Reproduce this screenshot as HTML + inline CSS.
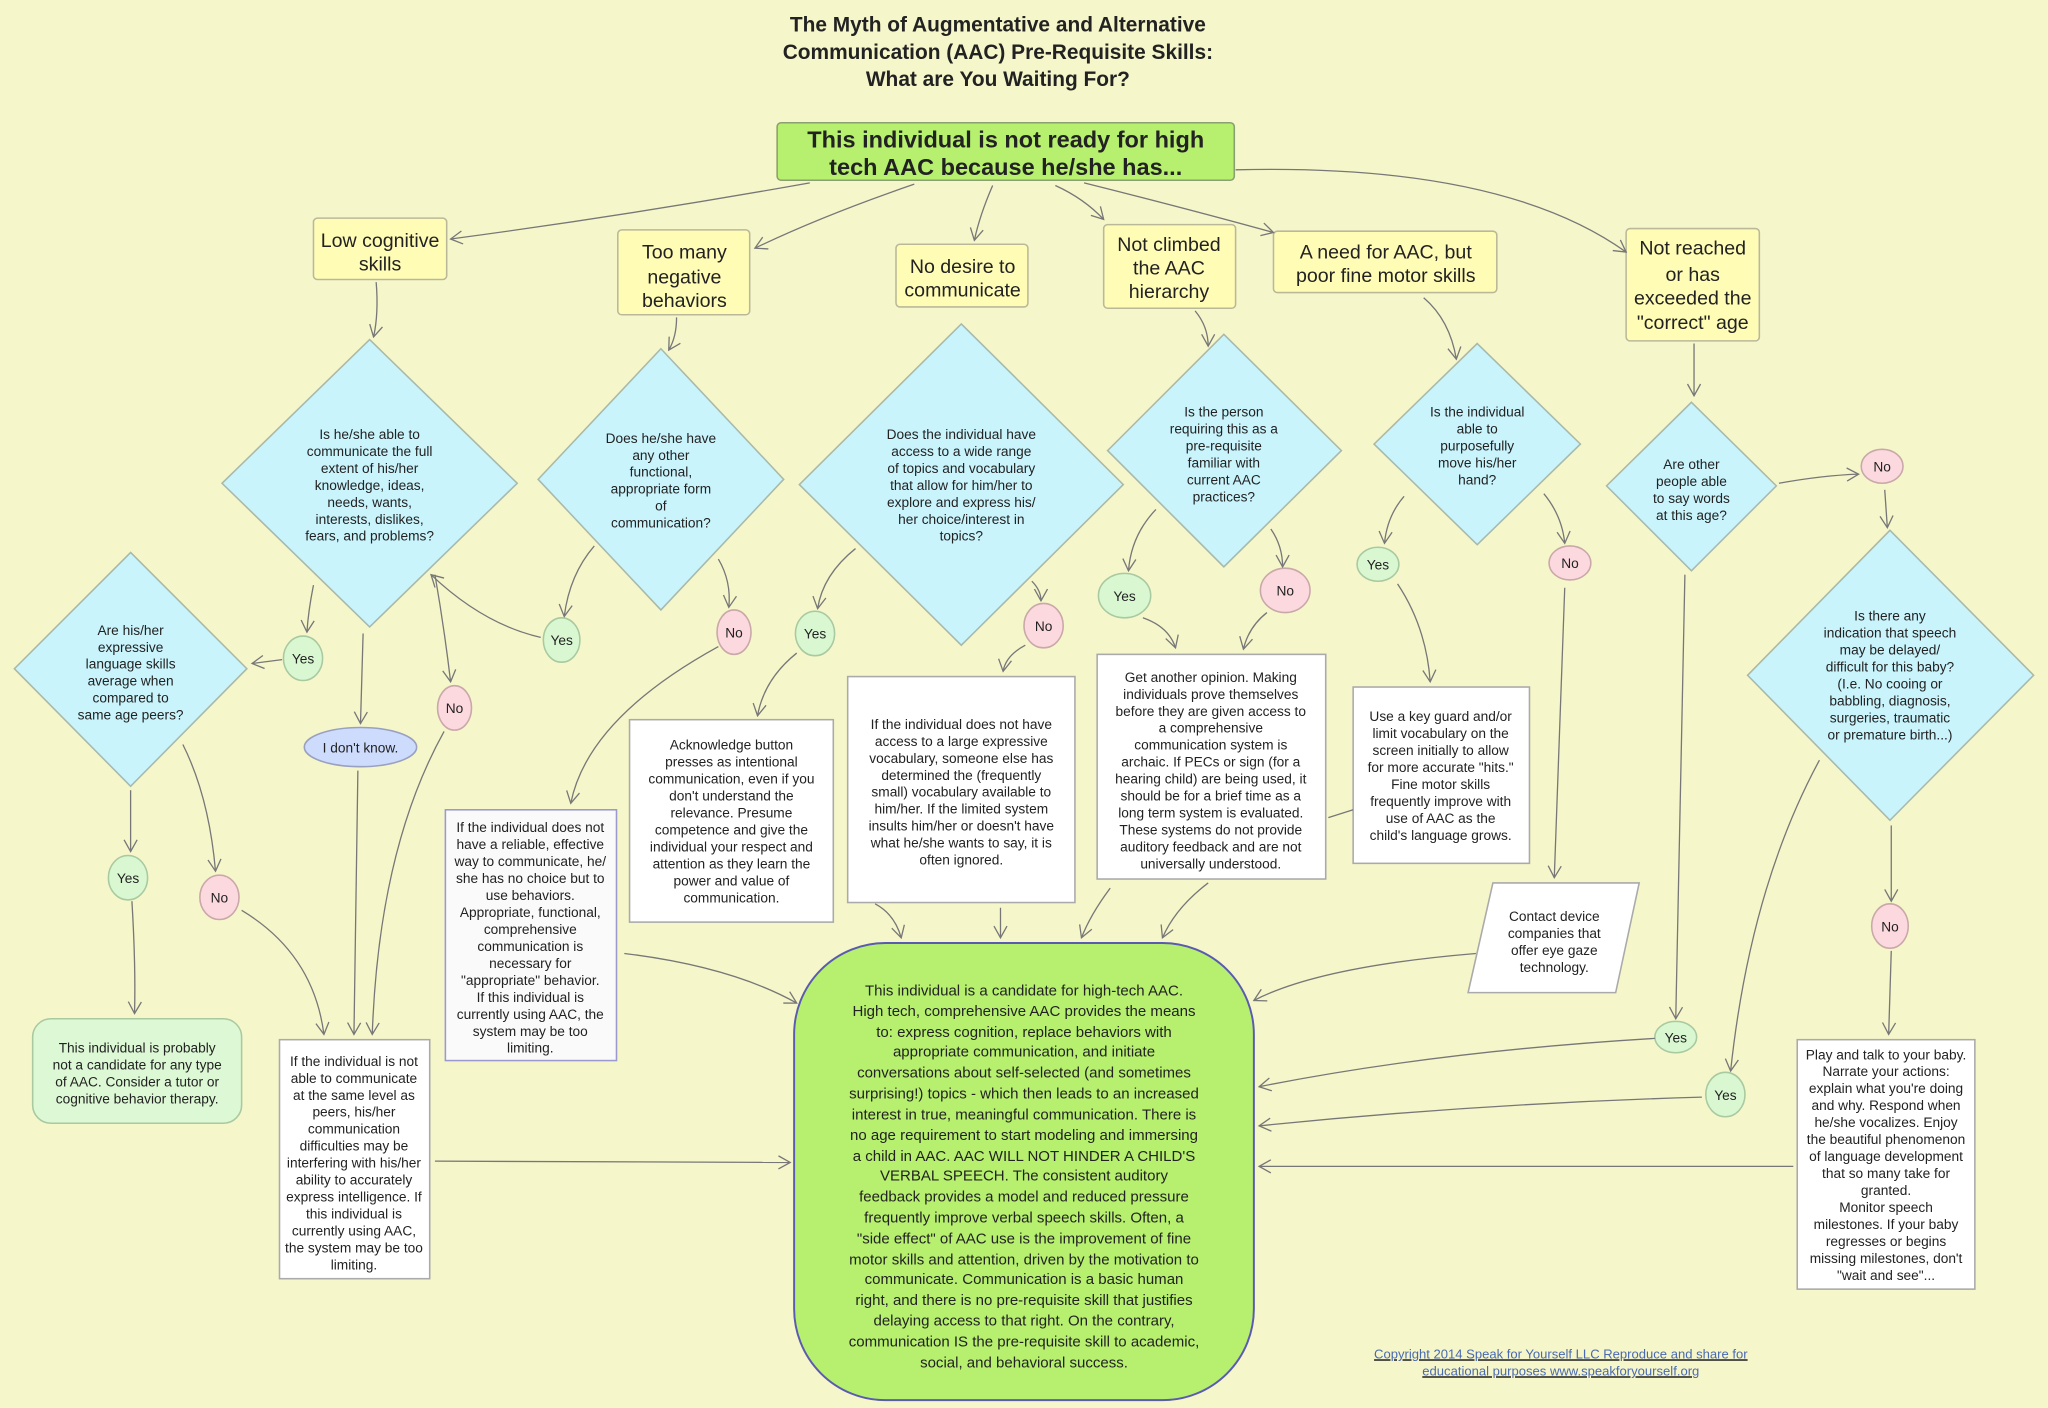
<!DOCTYPE html>
<html><head><meta charset="utf-8"><style>
html,body{margin:0;padding:0;background:#f6f6cb;}
svg{display:block;}
text{font-family:"Liberation Sans",sans-serif;fill:#222;}
.s{font-size:10.5px;text-anchor:middle;}
.m{font-size:15px;text-anchor:middle;}
.c{font-size:11.5px;text-anchor:middle;}
.a{fill:none;stroke:#777;stroke-width:1;marker-end:url(#ar);}
.l{fill:none;stroke:#777;stroke-width:1;}
.dm{fill:#c9f4fc;stroke:#a9b9a9;stroke-width:1.2;}
.y{fill:#d9f8d2;stroke:#a9c9a0;stroke-width:1.2;}
.n{fill:#fcd8df;stroke:#c9a8a8;stroke-width:1.2;}
.yb{fill:#fffcb6;stroke:#b9b99a;stroke-width:1.2;}
.wb{fill:#fff;stroke:#aaa;stroke-width:1.2;}
</style></head><body>
<svg width="2048" height="1408" viewBox="0 0 1568 1078" xmlns="http://www.w3.org/2000/svg">
<defs><marker id="ar" markerWidth="12" markerHeight="12" refX="10" refY="6" orient="auto" markerUnits="userSpaceOnUse"><path d="M1,1 L10,6 L1,11" fill="none" stroke="#777" stroke-width="1"/></marker></defs>
<rect width="1568" height="1078" fill="#f6f6cb"/>
<g font-weight="bold" style="font-size:16px">
<text x="764" y="24" text-anchor="middle">The Myth of Augmentative and Alternative</text>
<text x="764" y="45" text-anchor="middle">Communication (AAC) Pre-Requisite Skills:</text>
<text x="764" y="66" text-anchor="middle">What are You Waiting For?</text>
</g>
<rect x="595" y="94" width="350" height="44" rx="3" fill="#b6f06e" stroke="#8aa070" stroke-width="1.2"/>
<text x="770" y="113" text-anchor="middle" font-weight="bold" style="font-size:18px">This individual is not ready for high</text>
<text x="770" y="134" text-anchor="middle" font-weight="bold" style="font-size:18px">tech AAC because he/she has...</text>

<!-- yellow boxes -->
<rect class="yb" x="240" y="167" width="102" height="47" rx="3"/>
<text class="m" x="291" y="189">Low cognitive</text><text class="m" x="291" y="207">skills</text>
<rect class="yb" x="473" y="176" width="101" height="65" rx="3"/>
<text class="m" x="524" y="198">Too many</text><text class="m" x="524" y="217">negative</text><text class="m" x="524" y="235">behaviors</text>
<rect class="yb" x="686" y="187" width="101" height="48" rx="3"/>
<text class="m" x="737" y="209">No desire to</text><text class="m" x="737" y="227">communicate</text>
<rect class="yb" x="845" y="172" width="101" height="64" rx="3"/>
<text class="m" x="895" y="192">Not climbed</text><text class="m" x="895" y="210">the AAC</text><text class="m" x="895" y="228">hierarchy</text>
<rect class="yb" x="975" y="177" width="171" height="47" rx="3"/>
<text class="m" x="1061" y="198">A need for AAC, but</text><text class="m" x="1061" y="216">poor fine motor skills</text>
<rect class="yb" x="1245" y="175" width="102" height="86" rx="3"/>
<text class="m" x="1296" y="195">Not reached</text><text class="m" x="1296" y="215">or has</text><text class="m" x="1296" y="233">exceeded the</text><text class="m" x="1296" y="252">"correct" age</text>

<!-- diamonds -->
<polygon class="dm" points="283,260 396,370 283,480 170,370"/>
<g class="s"><text x="283" y="336">Is he/she able to</text><text x="283" y="349">communicate the full</text><text x="283" y="362">extent of his/her</text><text x="283" y="375">knowledge, ideas,</text><text x="283" y="388">needs, wants,</text><text x="283" y="401">interests, dislikes,</text><text x="283" y="414">fears, and problems?</text></g>
<polygon class="dm" points="506,267 600,367 506,467 412,367"/>
<g class="s"><text x="506" y="339">Does he/she have</text><text x="506" y="352">any other</text><text x="506" y="365">functional,</text><text x="506" y="378">appropriate form</text><text x="506" y="391">of</text><text x="506" y="404">communication?</text></g>
<polygon class="dm" points="736,248 860,371 736,494 612,371"/>
<g class="s"><text x="736" y="336">Does the individual have</text><text x="736" y="349">access to a wide range</text><text x="736" y="362">of topics and vocabulary</text><text x="736" y="375">that allow for him/her to</text><text x="736" y="388">explore and express his/</text><text x="736" y="401">her choice/interest in</text><text x="736" y="414">topics?</text></g>
<polygon class="dm" points="937,256 1027,345 937,434 848,345"/>
<g class="s"><text x="937" y="319">Is the person</text><text x="937" y="332">requiring this as a</text><text x="937" y="345">pre-requisite</text><text x="937" y="358">familiar with</text><text x="937" y="371">current AAC</text><text x="937" y="384">practices?</text></g>
<polygon class="dm" points="1131,263 1210,340 1131,417 1052,340"/>
<g class="s"><text x="1131" y="319">Is the individual</text><text x="1131" y="332">able to</text><text x="1131" y="345">purposefully</text><text x="1131" y="358">move his/her</text><text x="1131" y="371">hand?</text></g>
<polygon class="dm" points="1295,308 1360,372 1295,437 1230,372"/>
<g class="s"><text x="1295" y="359">Are other</text><text x="1295" y="372">people able</text><text x="1295" y="385">to say words</text><text x="1295" y="398">at this age?</text></g>
<polygon class="dm" points="1447,406 1557,517 1447,628 1338,517"/>
<g class="s"><text x="1447" y="475">Is there any</text><text x="1447" y="488">indication that speech</text><text x="1447" y="501">may be delayed/</text><text x="1447" y="514">difficult for this baby?</text><text x="1447" y="527">(I.e. No cooing or</text><text x="1447" y="540">babbling, diagnosis,</text><text x="1447" y="553">surgeries, traumatic</text><text x="1447" y="566">or premature birth...)</text></g>
<polygon class="dm" points="100,423 189,512 100,602 11,512"/>
<g class="s"><text x="100" y="486">Are his/her</text><text x="100" y="499">expressive</text><text x="100" y="512">language skills</text><text x="100" y="525">average when</text><text x="100" y="538">compared to</text><text x="100" y="551">same age peers?</text></g>

<!-- yes/no circles -->
<g class="s">
<ellipse class="y" cx="232" cy="504" rx="15" ry="17"/><text x="232" y="508">Yes</text>
<ellipse class="y" cx="430" cy="490" rx="14" ry="17"/><text x="430" y="494">Yes</text>
<ellipse class="n" cx="348" cy="542" rx="13" ry="17"/><text x="348" y="546">No</text>
<ellipse class="n" cx="562" cy="484" rx="13" ry="17"/><text x="562" y="488">No</text>
<ellipse class="y" cx="624" cy="485" rx="15" ry="17"/><text x="624" y="489">Yes</text>
<ellipse class="n" cx="799" cy="479" rx="15" ry="17"/><text x="799" y="483">No</text>
<ellipse class="y" cx="861" cy="456" rx="20" ry="17"/><text x="861" y="460">Yes</text>
<ellipse class="n" cx="984" cy="452" rx="19" ry="17"/><text x="984" y="456">No</text>
<ellipse class="y" cx="1055" cy="432" rx="16" ry="13"/><text x="1055" y="436">Yes</text>
<ellipse class="n" cx="1202" cy="431" rx="16" ry="13"/><text x="1202" y="435">No</text>
<ellipse class="n" cx="1441" cy="357" rx="16" ry="13"/><text x="1441" y="361">No</text>
<ellipse class="n" cx="1447" cy="709" rx="14" ry="17"/><text x="1447" y="713">No</text>
<ellipse class="y" cx="1283" cy="794" rx="16" ry="12"/><text x="1283" y="798">Yes</text>
<ellipse class="y" cx="1321" cy="838" rx="15" ry="17"/><text x="1321" y="842">Yes</text>
<ellipse class="y" cx="98" cy="672" rx="15" ry="17"/><text x="98" y="676">Yes</text>
<ellipse class="n" cx="168" cy="687" rx="15" ry="17"/><text x="168" y="691">No</text>
</g>
<ellipse cx="276" cy="572" rx="43" ry="15" fill="#cddcfc" stroke="#9aa0c0" stroke-width="1.2"/>
<text class="s" x="276" y="576">I don't know.</text>

<!-- white boxes -->
<rect x="25" y="780" width="160" height="80" rx="14" fill="#dcf8d4" stroke="#a9c9a0" stroke-width="1.2"/>
<g class="s"><text x="105" y="806">This individual is probably</text><text x="105" y="819">not a candidate for any type</text><text x="105" y="832">of AAC. Consider a tutor or</text><text x="105" y="845">cognitive behavior therapy.</text></g>

<rect class="wb" x="214" y="796" width="115" height="183" stroke="#aab"/>
<g class="s"><text x="271" y="816">If the individual is not</text><text x="271" y="829">able to communicate</text><text x="271" y="842">at the same level as</text><text x="271" y="855">peers, his/her</text><text x="271" y="868">communication</text><text x="271" y="881">difficulties may be</text><text x="271" y="894">interfering with his/her</text><text x="271" y="907">ability to accurately</text><text x="271" y="920">express intelligence. If</text><text x="271" y="933">this individual is</text><text x="271" y="946">currently using AAC,</text><text x="271" y="959">the system may be too</text><text x="271" y="972">limiting.</text></g>

<rect x="341" y="620" width="131" height="192" fill="#fafafa" stroke="#9a9ad0" stroke-width="1.2"/>
<g class="s"><text x="406" y="637">If the individual does not</text><text x="406" y="650">have a reliable, effective</text><text x="406" y="663">way to communicate, he/</text><text x="406" y="676">she has no choice but to</text><text x="406" y="689">use behaviors.</text><text x="406" y="702">Appropriate, functional,</text><text x="406" y="715">comprehensive</text><text x="406" y="728">communication is</text><text x="406" y="741">necessary for</text><text x="406" y="754">"appropriate" behavior.</text><text x="406" y="767">If this individual is</text><text x="406" y="780">currently using AAC, the</text><text x="406" y="793">system may be too</text><text x="406" y="806">limiting.</text></g>

<rect class="wb" x="482" y="551" width="156" height="155"/>
<g class="s"><text x="560" y="574">Acknowledge button</text><text x="560" y="587">presses as intentional</text><text x="560" y="600">communication, even if you</text><text x="560" y="613">don't understand the</text><text x="560" y="626">relevance. Presume</text><text x="560" y="639">competence and give the</text><text x="560" y="652">individual your respect and</text><text x="560" y="665">attention as they learn the</text><text x="560" y="678">power and value of</text><text x="560" y="691">communication.</text></g>

<rect class="wb" x="649" y="518" width="174" height="173"/>
<g class="s"><text x="736" y="558">If the individual does not have</text><text x="736" y="571">access to a large expressive</text><text x="736" y="584">vocabulary, someone else has</text><text x="736" y="597">determined the (frequently</text><text x="736" y="610">small) vocabulary available to</text><text x="736" y="623">him/her. If the limited system</text><text x="736" y="636">insults him/her or doesn't have</text><text x="736" y="649">what he/she wants to say, it is</text><text x="736" y="662">often ignored.</text></g>

<rect class="wb" x="840" y="501" width="175" height="172"/>
<g class="s"><text x="927" y="522">Get another opinion.  Making</text><text x="927" y="535">individuals prove themselves</text><text x="927" y="548">before they are given access to</text><text x="927" y="561">a comprehensive</text><text x="927" y="574">communication system is</text><text x="927" y="587">archaic. If PECs or sign (for a</text><text x="927" y="600">hearing child) are being used, it</text><text x="927" y="613">should be for a brief time as a</text><text x="927" y="626">long term system is evaluated.</text><text x="927" y="639">These systems do not provide</text><text x="927" y="652">auditory feedback and are not</text><text x="927" y="665">universally understood.</text></g>

<rect class="wb" x="1036" y="526" width="135" height="135"/>
<g class="s"><text x="1103" y="552">Use a key guard and/or</text><text x="1103" y="565">limit vocabulary on the</text><text x="1103" y="578">screen initially to allow</text><text x="1103" y="591">for more accurate "hits."</text><text x="1103" y="604">Fine motor skills</text><text x="1103" y="617">frequently improve with</text><text x="1103" y="630">use of AAC as the</text><text x="1103" y="643">child's language grows.</text></g>

<polygon class="wb" points="1143,676 1255,676 1237,760 1124,760"/>
<g class="s"><text x="1190" y="705">Contact device</text><text x="1190" y="718">companies that</text><text x="1190" y="731">offer eye gaze</text><text x="1190" y="744">technology.</text></g>

<rect class="wb" x="1376" y="796" width="136" height="191" stroke="#aab"/>
<g class="s"><text x="1444" y="811">Play and talk to your baby.</text><text x="1444" y="824">Narrate your actions:</text><text x="1444" y="837">explain what you're doing</text><text x="1444" y="850">and why. Respond when</text><text x="1444" y="863">he/she vocalizes.  Enjoy</text><text x="1444" y="876">the beautiful phenomenon</text><text x="1444" y="889">of language development</text><text x="1444" y="902">that so many take for</text><text x="1444" y="915">granted.</text><text x="1444" y="928">Monitor speech</text><text x="1444" y="941">milestones.  If your baby</text><text x="1444" y="954">regresses or begins</text><text x="1444" y="967">missing milestones, don't</text><text x="1444" y="980">"wait and see"...</text></g>

<!-- big green -->
<rect x="608" y="722" width="352" height="350" rx="70" fill="#b6f06e" stroke="#5a5ab0" stroke-width="1.5"/>
<g class="c"><text x="784" y="762">This individual is a candidate for high-tech AAC.</text><text x="784" y="778">High tech, comprehensive AAC provides the means</text><text x="784" y="794">to: express cognition, replace behaviors with</text><text x="784" y="809">appropriate communication, and initiate</text><text x="784" y="825">conversations about self-selected (and sometimes</text><text x="784" y="841">surprising!) topics - which then leads to an increased</text><text x="784" y="857">interest in true, meaningful communication.  There is</text><text x="784" y="873">no age requirement to start modeling and immersing</text><text x="784" y="889">a child in AAC. AAC WILL NOT HINDER A CHILD'S</text><text x="784" y="904">VERBAL SPEECH. The consistent auditory</text><text x="784" y="920">feedback provides a model and reduced pressure</text><text x="784" y="936">frequently improve verbal speech skills. Often, a</text><text x="784" y="952">"side effect" of AAC use is the improvement of fine</text><text x="784" y="968">motor skills and attention, driven by the motivation to</text><text x="784" y="983">communicate. Communication is a basic human</text><text x="784" y="999">right, and there is no pre-requisite skill that justifies</text><text x="784" y="1015">delaying access to that right. On the contrary,</text><text x="784" y="1031">communication IS the pre-requisite skill to academic,</text><text x="784" y="1047">social, and behavioral success.</text></g>

<g style="font-size:10px;font-family:'Liberation Serif',serif" text-anchor="middle" text-decoration="underline">
<text x="1195" y="1040" style="fill:#4a6ab0">Copyright 2014 Speak for Yourself LLC  Reproduce and share for</text>
<text x="1195" y="1053" style="fill:#4a6ab0">educational purposes www.speakforyourself.org</text></g>

<!-- arrows -->
<path class="a" d="M620,140 Q480,165 345,183"/>
<path class="a" d="M700,141 Q630,165 578,190"/>
<path class="a" d="M760,142 Q750,165 746,184"/>
<path class="a" d="M808,142 Q830,152 845,168"/>
<path class="a" d="M830,140 Q910,160 975,178"/>
<path class="a" d="M946,130 Q1150,125 1245,193"/>
<path class="a" d="M288,216 Q290,240 286,258"/>
<path class="a" d="M518,243 Q518,258 512,268"/>
<path class="a" d="M915,238 Q925,250 925,265"/>
<path class="a" d="M1090,228 Q1110,245 1115,275"/>
<path class="a" d="M1297,263 L1297,303"/>
<path class="a" d="M240,448 Q236,468 235,484"/>
<path class="a" d="M216,505 L193,508"/>
<path class="a" d="M278,485 L276,554"/>
<path class="a" d="M414,488 Q370,478 330,440"/>
<path class="a" d="M333,440 Q340,480 345,522"/>
<path class="a" d="M455,418 Q436,440 432,472"/>
<path class="a" d="M550,428 Q560,445 558,465"/>
<path class="a" d="M655,420 Q630,440 626,466"/>
<path class="a" d="M790,445 Q797,452 797,460"/>
<path class="a" d="M550,495 Q450,550 437,615"/>
<path class="a" d="M610,500 Q585,520 580,548"/>
<path class="a" d="M785,494 Q770,502 768,514"/>
<path class="a" d="M885,390 Q866,410 864,437"/>
<path class="a" d="M973,405 Q982,418 982,434"/>
<path class="a" d="M875,473 Q895,480 900,496"/>
<path class="a" d="M970,469 Q956,480 952,497"/>
<path class="a" d="M1075,380 Q1062,395 1060,416"/>
<path class="a" d="M1182,378 Q1196,395 1198,416"/>
<path class="a" d="M1070,447 Q1092,480 1095,522"/>
<path class="a" d="M1198,450 L1190,672"/>
<path class="a" d="M1362,370 Q1395,364 1423,363"/>
<path class="a" d="M1443,375 L1445,404"/>
<path class="a" d="M1448,632 L1448,690"/>
<path class="a" d="M1448,728 L1446,792"/>
<path class="a" d="M1290,440 L1283,780"/>
<path class="a" d="M1393,582 Q1340,680 1325,820"/>
<path class="a" d="M100,605 L100,652"/>
<path class="a" d="M140,570 Q160,610 165,667"/>
<path class="a" d="M101,690 Q104,740 103,776"/>
<path class="a" d="M185,697 Q240,730 248,792"/>
<path class="a" d="M274,590 L271,792"/>
<path class="a" d="M340,560 Q290,650 285,792"/>
<path class="a" d="M333,889 L605,890"/>
<path class="a" d="M478,730 Q560,740 610,768"/>
<path class="a" d="M670,692 Q685,700 690,718"/>
<path class="a" d="M766,695 L766,718"/>
<path class="a" d="M850,680 Q835,700 828,718"/>
<path class="a" d="M925,676 Q900,695 890,718"/>
<path class="l" d="M1036,620 L1017,626"/>
<path class="a" d="M1130,730 Q1010,740 960,766"/>
<path class="a" d="M1267,795 Q1100,805 964,832"/>
<path class="a" d="M1303,840 Q1130,845 964,862"/>
<path class="a" d="M1373,893 L964,893"/>
</svg>
</body></html>
